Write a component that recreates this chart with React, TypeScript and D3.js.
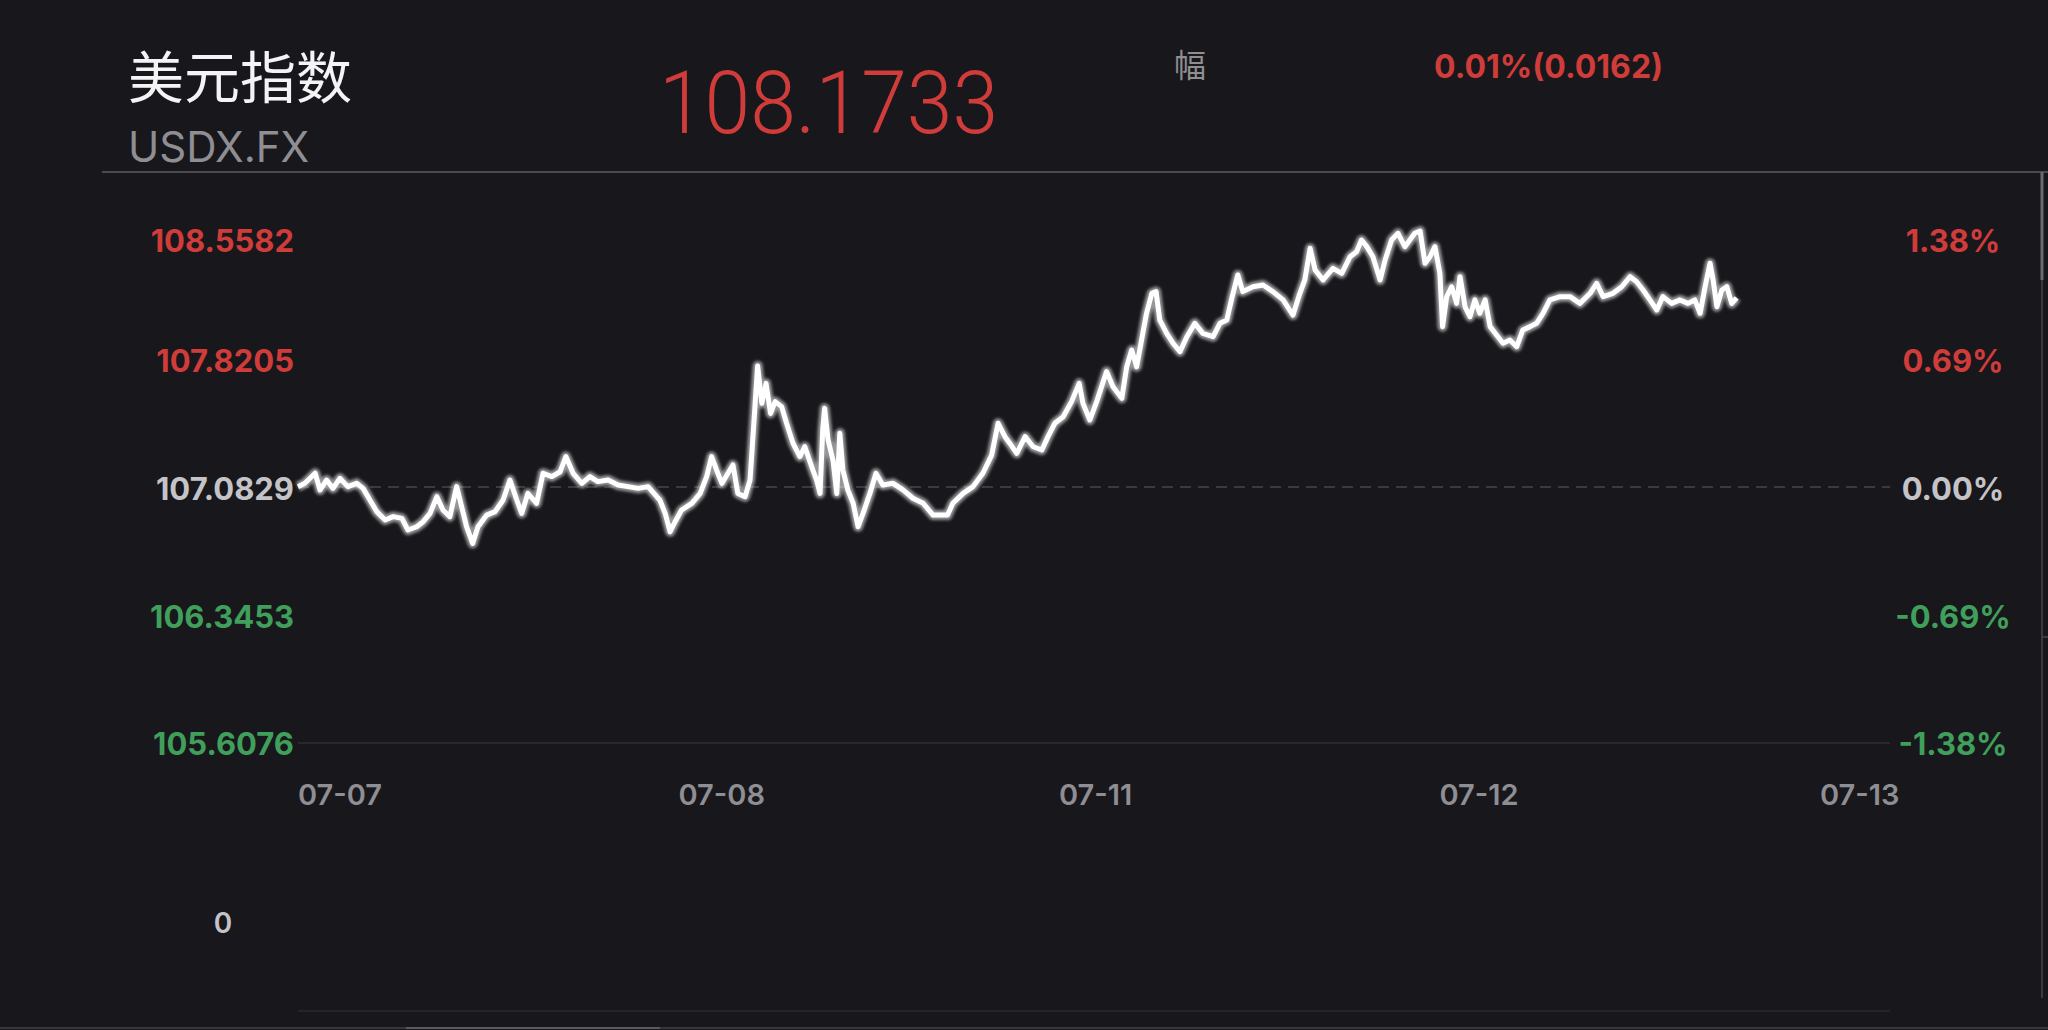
import React, { useEffect } from 'react';
import * as d3 from 'd3';

const W = 2048;
const H = 1030;

// quote header
const title = '美元指数';
const symbol = 'USDX.FX';
const lastPrice = 108.1733;
const changeLabel = '幅';
const changeText = '0.01%(0.0162)';

// axis
const prevClose = 107.0829;
const axisPrices = [108.5582, 107.8205, 107.0829, 106.3453, 105.6076];
const axisPercents = ['1.38%', '0.69%', '0.00%', '-0.69%', '-1.38%'];
const dayLabels = ['07-07', '07-08', '07-11', '07-12', '07-13'];
const volumeLabel = '0';

// intraday series: time in trading days since the 07-07 open, price
const times = [
  0.000, 0.018, 0.045, 0.058, 0.075, 0.092, 0.110, 0.131, 0.154, 0.171,
  0.189, 0.207, 0.229, 0.250, 0.273, 0.289, 0.312, 0.329, 0.347, 0.365,
  0.381, 0.399, 0.417, 0.430, 0.443, 0.459, 0.473, 0.496, 0.518, 0.539,
  0.557, 0.575, 0.588, 0.604, 0.627, 0.644, 0.667, 0.689, 0.704, 0.723,
  0.746, 0.767, 0.788, 0.815, 0.841, 0.867, 0.894, 0.920, 0.943, 0.951,
  0.965, 0.978, 0.991, 1.008, 1.035, 1.057, 1.074, 1.087, 1.100, 1.114,
  1.130, 1.143, 1.156, 1.175, 1.188, 1.198, 1.208, 1.219, 1.230, 1.242,
  1.254, 1.271, 1.284, 1.301, 1.319, 1.332, 1.350, 1.363, 1.372, 1.379,
  1.384, 1.393, 1.406, 1.416, 1.424, 1.432, 1.445, 1.459, 1.472, 1.485,
  1.503, 1.519, 1.537, 1.564, 1.590, 1.616, 1.643, 1.669, 1.687, 1.707,
  1.721, 1.748, 1.774, 1.800, 1.823, 1.840, 1.858, 1.871, 1.889, 1.911,
  1.932, 1.955, 1.971, 1.989, 2.011, 2.033, 2.053, 2.063, 2.081, 2.099,
  2.125, 2.142, 2.165, 2.178, 2.191, 2.204, 2.217, 2.230, 2.244, 2.255,
  2.265, 2.283, 2.300, 2.318, 2.336, 2.357, 2.378, 2.405, 2.423, 2.441,
  2.454, 2.470, 2.483, 2.510, 2.536, 2.562, 2.589, 2.615, 2.633, 2.646,
  2.660, 2.673, 2.694, 2.720, 2.743, 2.765, 2.782, 2.795, 2.809, 2.825,
  2.844, 2.857, 2.874, 2.891, 2.909, 2.922, 2.935, 2.949, 2.962, 2.975,
  2.988, 3.001, 3.008, 3.019, 3.032, 3.045, 3.054, 3.067, 3.080, 3.093,
  3.106, 3.120, 3.133, 3.150, 3.167, 3.185, 3.203, 3.219, 3.238, 3.255,
  3.272, 3.290, 3.317, 3.343, 3.369, 3.396, 3.413, 3.430, 3.456, 3.479,
  3.501, 3.518, 3.535, 3.553, 3.571, 3.587, 3.610, 3.632, 3.653, 3.671,
  3.685, 3.698, 3.711, 3.719, 3.729, 3.742, 3.755, 3.768, 3.781,
];

const prices = [
  107.085, 107.104, 107.162, 107.066, 107.123, 107.075, 107.133, 107.085, 107.104, 107.075,
  107.008, 106.941, 106.893, 106.912, 106.902, 106.835, 106.854, 106.883, 106.931, 107.027,
  106.950, 106.912, 107.085, 106.970, 106.854, 106.758, 106.854, 106.921, 106.941, 107.008,
  107.123, 107.008, 106.931, 107.046, 106.989, 107.162, 107.143, 107.171, 107.258, 107.162,
  107.104, 107.143, 107.114, 107.123, 107.094, 107.085, 107.075, 107.085, 107.027, 107.008,
  106.931, 106.825, 106.883, 106.950, 106.989, 107.046, 107.143, 107.258, 107.181, 107.104,
  107.162, 107.210, 107.046, 107.027, 107.123, 107.450, 107.780, 107.565, 107.680, 107.507,
  107.575, 107.546, 107.450, 107.335, 107.258, 107.315, 107.200, 107.123, 107.046, 107.411,
  107.536, 107.354, 107.238, 107.046, 107.392, 107.181, 107.066, 106.989, 106.854, 106.931,
  107.046, 107.162, 107.094, 107.104, 107.066, 107.018, 106.989, 106.921, 106.921, 106.921,
  106.989, 107.046, 107.085, 107.162, 107.267, 107.450, 107.373, 107.334, 107.277, 107.373,
  107.315, 107.296, 107.373, 107.450, 107.488, 107.575, 107.680, 107.565, 107.469, 107.575,
  107.748, 107.661, 107.594, 107.776, 107.872, 107.776, 107.930, 108.084, 108.199, 108.209,
  108.045, 107.968, 107.911, 107.863, 107.949, 108.026, 107.968, 107.949, 108.026, 108.045,
  108.170, 108.305, 108.209, 108.237, 108.247, 108.209, 108.161, 108.074, 108.199, 108.276,
  108.458, 108.334, 108.276, 108.343, 108.314, 108.410, 108.439, 108.506, 108.468, 108.410,
  108.276, 108.391, 108.506, 108.545, 108.468, 108.506, 108.545, 108.5582, 108.372, 108.410,
  108.468, 108.314, 108.007, 108.180, 108.237, 108.141, 108.295, 108.122, 108.064, 108.161,
  108.084, 108.161, 108.007, 107.959, 107.911, 107.930, 107.892, 107.988, 108.007, 108.026,
  108.084, 108.161, 108.180, 108.180, 108.141, 108.199, 108.257, 108.180, 108.199, 108.237,
  108.295, 108.266, 108.218, 108.161, 108.103, 108.180, 108.141, 108.161, 108.141, 108.161,
  108.084, 108.237, 108.372, 108.276, 108.122, 108.218, 108.237, 108.141, 108.1733,
];

const BG = '#18171c';
const RED = '#d03c3a';
const GREEN = '#3f9f5b';
const NEUTRAL = '#c4c4c8';
const GRAY = '#8e8e93';
const LATIN = 'Inter, "Noto Sans", sans-serif';
const CJK = '"Noto Sans CJK SC", sans-serif';

export default function App() {
  useEffect(() => {
    document.body.style.margin = '0';
    document.body.style.background = BG;
  }, []);

  const plot = { left: 298, right: 1890, top: 231, bottom: 743 };
  const x = d3.scaleLinear().domain([0, 4]).range([plot.left, 1820]);
  const y = d3
    .scaleLinear()
    .domain([axisPrices[axisPrices.length - 1], axisPrices[0]])
    .range([plot.bottom, plot.top]);

  const series = times.map((t, i) => ({ t, p: prices[i] }));
  const line = d3
    .line<{ t: number; p: number }>()
    .x((d) => x(d.t))
    .y((d) => y(d.p));
  const pathD = line(series) || '';

  const colorFor = (v: number) =>
    Math.abs(v - prevClose) < 1e-6 ? NEUTRAL : v > prevClose ? RED : GREEN;
  const labelY = (v: number) => Math.min(Math.max(y(v) + 2, 241), 744);

  return (
    <svg width={W} height={H} style={{ display: 'block', background: BG }}>
      <defs>
        <filter id="soft" x="-5%" y="-20%" width="110%" height="140%">
          <feGaussianBlur stdDeviation="1.8" />
        </filter>
      </defs>
      <rect x={0} y={0} width={W} height={H} fill={BG} />

      {/* header */}
      <text x={128} y={98} fill="#f4f4f6" fontFamily={CJK} fontSize={56}>
        {title}
      </text>
      <text x={128} y={162} fill={GRAY} fontFamily={LATIN} fontSize={42}>
        {symbol}
      </text>
      <text
        x={659}
        y={133}
        fill={RED}
        fontFamily='Roboto, "Noto Sans", sans-serif'
        fontWeight={300}
        fontSize={88}
        textLength={339}
        lengthAdjust="spacingAndGlyphs"
      >
        {lastPrice.toFixed(4)}
      </text>
      <text x={1174} y={77} fill={GRAY} fontFamily={CJK} fontSize={32}>
        {changeLabel}
      </text>
      <text x={1434} y={78} fill={RED} fontFamily={LATIN} fontWeight={700} fontSize={32}>
        {changeText}
      </text>
      <line x1={102} x2={W} y1={172} y2={172} stroke="#4a4a4f" strokeWidth={2} />

      {/* grid */}
      <line
        x1={plot.left}
        x2={plot.right}
        y1={y(prevClose)}
        y2={y(prevClose)}
        stroke="#3a3a3f"
        strokeWidth={2}
        strokeDasharray="11 7"
      />
      <line
        x1={plot.left}
        x2={plot.right}
        y1={y(axisPrices[axisPrices.length - 1])}
        y2={y(axisPrices[axisPrices.length - 1])}
        stroke="#2e2e33"
        strokeWidth={1.5}
      />

      {/* price line */}
      <path d={pathD} fill="none" stroke="#ffffff" strokeOpacity={0.55} strokeWidth={10} filter="url(#soft)" strokeLinejoin="round" />
      <path d={pathD} fill="none" stroke="#ffffff" strokeWidth={5} strokeLinejoin="round" />

      {/* left axis: price */}
      {axisPrices.map((v) => (
        <text
          key={'l' + v}
          x={294}
          y={labelY(v)}
          dy="0.36em"
          textAnchor="end"
          fill={colorFor(v)}
          fontFamily={LATIN}
          fontWeight={700}
          fontSize={31}
        >
          {v.toFixed(4)}
        </text>
      ))}

      {/* right axis: percent */}
      {axisPrices.map((v, i) => (
        <text
          key={'r' + v}
          x={1953}
          y={labelY(v)}
          dy="0.36em"
          textAnchor="middle"
          fill={colorFor(v)}
          fontFamily={LATIN}
          fontWeight={700}
          fontSize={31}
        >
          {axisPercents[i]}
        </text>
      ))}

      {/* time axis */}
      {dayLabels.map((d, i) => (
        <text
          key={d}
          x={x(i)}
          y={795}
          dy="0.36em"
          fill={GRAY}
          fontFamily={LATIN}
          fontWeight={600}
          fontSize={29}
        >
          {d}
        </text>
      ))}

      {/* volume pane */}
      <text x={223} y={923} dy="0.36em" textAnchor="middle" fill={NEUTRAL} fontFamily={LATIN} fontWeight={600} fontSize={28}>
        {volumeLabel}
      </text>
      <line x1={plot.left} x2={plot.right} y1={1011} y2={1011} stroke="#2a2a2f" strokeWidth={1.5} />

      {/* frame edges */}
      <line x1={2042} x2={2042} y1={172} y2={998} stroke="#3a3a3f" strokeWidth={2} />
      <line x1={2042} x2={2042} y1={172} y2={280} stroke="#6a6a70" strokeWidth={3} />
      <line x1={2042} x2={W} y1={637} y2={637} stroke="#3a3a3f" strokeWidth={2} />
      <line x1={0} x2={W} y1={1028} y2={1028} stroke="#36363b" strokeWidth={2} />
      <line x1={406} x2={660} y1={1028} y2={1028} stroke="#5a5a60" strokeWidth={2} />
    </svg>
  );
}
